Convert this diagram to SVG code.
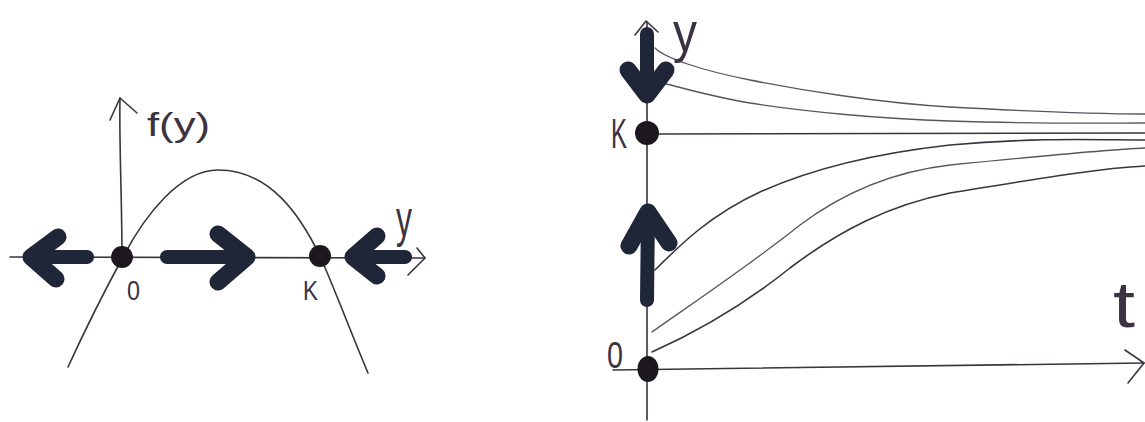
<svg xmlns="http://www.w3.org/2000/svg" width="1145" height="422" viewBox="0 0 1145 422">
  <style>
    .ln { fill: none; stroke: #3b3342; stroke-width: 1.6; stroke-linecap: round; stroke-linejoin: round; }
    .thin { fill: none; stroke: #5a5360; stroke-width: 1.3; stroke-linecap: round; }
    .shaft { fill: none; stroke: #1f2638; stroke-width: 14; stroke-linecap: round; }
    .head { fill: none; stroke: #1f2638; stroke-width: 17; stroke-linecap: round; stroke-linejoin: round; }
    .dot { fill: #1d1820; }
    .lbl { font-family: "Liberation Sans", Arial, sans-serif; fill: #3b3342; }
  </style>
  <rect width="1145" height="422" fill="#ffffff"/>

  <!-- LEFT PANEL: phase line -->
  <g id="connectors-left">
    <path class="ln" d="M10,257 L425,258"/>
    <path class="ln" d="M417,248 L425,258 L408,275"/>
    <path class="ln" d="M122,257 C122,200 119,140 120,98"/>
    <path class="ln" d="M110,120 L120,98 L137,113"/>
    <path class="ln" d="M68,367 C85,330 105,290 123,257 C145,215 180,170 218,170 C270,170 300,215 320,256 C335,290 350,330 368,373"/>
  </g>
  <g id="flow-arrows-left">
    <path class="shaft" d="M87,257 L31,257"/>
    <path class="head" d="M58,237 L31,257 L56,279"/>
    <path class="shaft" d="M167,257 L247,257"/>
    <path class="head" d="M218,234 L247,257 L218,282"/>
    <path class="shaft" d="M405,257 L353,257"/>
    <path class="head" d="M377,236 L353,257 L377,276"/>
  </g>
  <g id="node-origin-left">
    <circle class="dot" cx="122" cy="257" r="11"/>
    <text class="lbl" x="127" y="300" font-size="27" textLength="13" lengthAdjust="spacingAndGlyphs">0</text>
  </g>
  <g id="node-K-left">
    <circle class="dot" cx="320" cy="256" r="11"/>
    <text class="lbl" x="303" y="300" font-size="28" textLength="15" lengthAdjust="spacingAndGlyphs">K</text>
  </g>
  <g id="labels-left">
    <text class="lbl" x="147" y="136" font-size="34" textLength="63" lengthAdjust="spacingAndGlyphs">f(y)</text>
    <text class="lbl" x="396" y="236" font-size="52" textLength="16" lengthAdjust="spacingAndGlyphs">y</text>
  </g>

  <!-- RIGHT PANEL: solutions y(t) -->
  <g id="connectors-right">
    <path class="ln" d="M647,420 L647,22"/>
    <path class="ln" d="M635,35 L646,21 L658,32"/>
    <path class="ln" d="M613,370 L1144,363"/>
    <path class="ln" d="M1125,350 L1144,363 L1128,383"/>
    <path class="ln" d="M658,134 L1145,133"/>
    <path class="thin" d="M655,48 C665,58 700,70 750,80 C800,90 880,103 950,107 C1040,112 1100,114 1145,114"/>
    <path class="thin" d="M663,83 C700,93 720,98 750,103 C800,111 880,119 950,121 C1040,124 1100,123 1145,123"/>
    <path class="ln" d="M655,270 C680,245 710,215 760,192 C800,174 860,155 950,145 C1040,137 1100,140 1145,140"/>
    <path class="thin" d="M652,332 C690,305 750,265 800,225 C840,195 890,172 950,165 C1030,157 1100,150 1145,148"/>
    <path class="ln" d="M652,352 C690,335 740,308 790,268 C840,230 890,205 950,193 C1030,180 1100,168 1145,166"/>
  </g>
  <g id="flow-arrows-right">
    <path class="shaft" d="M647,34 L647,94"/>
    <path class="head" d="M628,70 L647,95 L666,70"/>
    <path class="shaft" d="M647,300 L648,213"/>
    <path class="head" d="M629,246 L648,212 L669,243"/>
  </g>
  <g id="node-K-right">
    <circle class="dot" cx="647" cy="133" r="12"/>
    <text class="lbl" x="611" y="148" font-size="43" textLength="16" lengthAdjust="spacingAndGlyphs">K</text>
  </g>
  <g id="node-origin-right">
    <ellipse class="dot" cx="648" cy="369" rx="10.5" ry="13"/>
    <text class="lbl" x="607" y="368" font-size="36" textLength="16" lengthAdjust="spacingAndGlyphs">0</text>
  </g>
  <g id="labels-right">
    <text class="lbl" x="673" y="51" font-size="56" textLength="24" lengthAdjust="spacingAndGlyphs">y</text>
    <text class="lbl" x="1113" y="327" font-size="64" textLength="22" lengthAdjust="spacingAndGlyphs">t</text>
  </g>
</svg>
